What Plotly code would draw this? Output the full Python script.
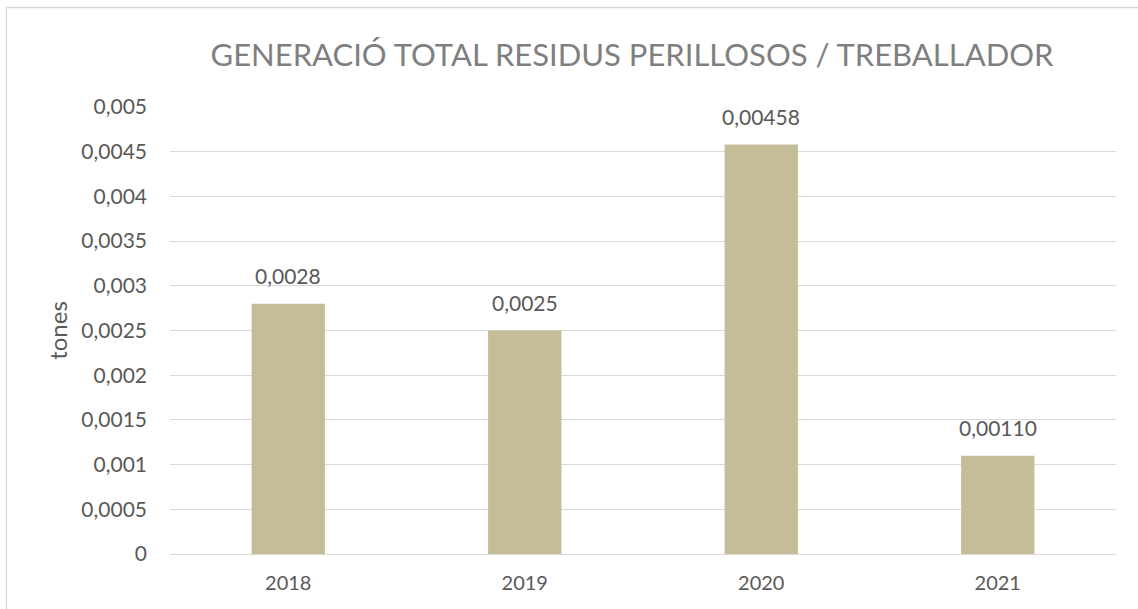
import plotly.graph_objects as go

years = ["2018", "2019", "2020", "2021"]
values = [0.0028, 0.0025, 0.00458, 0.00110]
value_labels = ["0,0028", "0,0025", "0,00458", "0,00110"]
tick_vals = [0, 0.0005, 0.001, 0.0015, 0.002, 0.0025, 0.003, 0.0035, 0.004, 0.0045, 0.005]
tick_text = ["0", "0,0005", "0,001", "0,0015", "0,002", "0,0025", "0,003", "0,0035", "0,004", "0,0045", "0,005"]
title_text = "GENERACIÓ TOTAL RESIDUS PERILLOSOS / TREBALLADOR"
y_title = "tones"

FONT = "Lato, 'Open Sans', sans-serif"
TXT = "#595959"

fig = go.Figure(go.Bar(
    x=years, y=values,
    marker=dict(color="#C4BD97", line=dict(width=0)),
    hoverinfo="x+y",
))

for i, (v, lab) in enumerate(zip(values, value_labels)):
    fig.add_annotation(x=i, y=v, xref="x", yref="y", text=lab, showarrow=False,
                       yanchor="bottom", yshift=14,
                       font=dict(family=FONT, size=21, color=TXT))

L, R, T, B = 170, 22, 107, 55
W, H = 1138, 609
pw = W - L - R
ph = H - T - B

fig.update_layout(
    width=W, height=H,
    margin=dict(l=L, r=R, t=T, b=B),
    paper_bgcolor="white", plot_bgcolor="white",
    bargap=0.69,
    showlegend=False,
    font=dict(family=FONT, color=TXT),
    title=dict(text=title_text, x=(632 - L) / pw, xref="paper", xanchor="center",
               y=1 - 55 / H, yanchor="middle",
               font=dict(family=FONT, size=31, color="#7F7F7F")),
    xaxis=dict(type="category", range=[-0.5, len(years) - 0.5], showgrid=False,
               showline=False, ticks="",
               tickfont=dict(size=20, color=TXT), ticklabelstandoff=15),
    yaxis=dict(range=[0, 0.005], tickvals=tick_vals, ticktext=tick_text,
               showgrid=True, gridcolor="#D9D9D9", gridwidth=1.3,
               zeroline=True, zerolinecolor="#D9D9D9", zerolinewidth=1.3,
               showline=False, ticks="", tickfont=dict(size=21, color=TXT),
               ticklabelstandoff=22,
               title=dict(text=y_title, font=dict(size=24, color=TXT), standoff=6)),
    shapes=[dict(type="rect", xref="paper", yref="paper",
                 x0=(6.5 - L) / pw, x1=(1160 - L) / pw,
                 y0=(H - B - 650) / ph, y1=(H - B - 7.5) / ph,
                 line=dict(color="#D9D9D9", width=1.3), fillcolor="rgba(0,0,0,0)", layer="below")],
)

fig.write_html("out.html", config={"displayModeBar": False},
               post_script="document.body.style.margin='0';document.body.style.overflow='hidden';")
